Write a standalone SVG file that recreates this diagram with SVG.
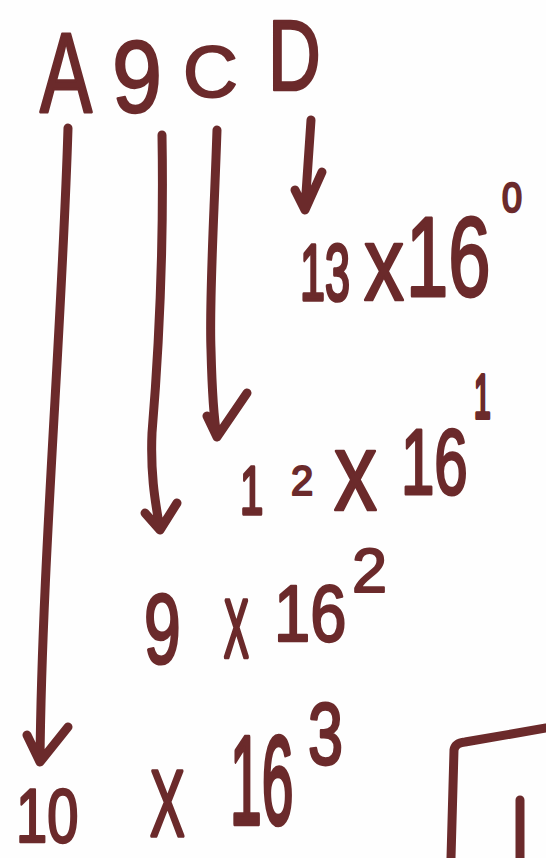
<svg xmlns="http://www.w3.org/2000/svg" width="546" height="858" viewBox="0 0 546 858">
<style>
.t{font-family:"Liberation Sans","DejaVu Sans",sans-serif;fill:#6b2a2b;stroke:#6b2a2b;stroke-width:2;stroke-linejoin:round;}
.ln{fill:none;stroke:#6b2a2b;stroke-width:9;stroke-linecap:round;stroke-linejoin:round;}
</style>
<rect width="546" height="858" fill="#fefefe"/>
<g id="header">
<text class="t" transform="translate(40,112) scale(1,1.46)" font-size="78">A</text>
<text class="t" transform="translate(112,112) scale(1,1.13)" font-size="90">9</text>
<text class="t" transform="translate(183,97) scale(1,0.95)" font-size="76">C</text>
<text class="t" transform="translate(268,90) scale(1,1.36)" font-size="73">D</text>
</g>
<g id="connectors">
<path class="ln" d="M68,128 C62,330 42,560 40,760 M27,735 L40,762 L68,727"/>
<path class="ln" d="M162,135 C164,250 158,360 152,433 C150,480 157,510 160,530 M145,513 L160,530 L177,503"/>
<path class="ln" d="M217,130 C214,220 209,300 211,350 C212,390 214,420 217,437 M207,416 L217,437 L247,393"/>
<path class="ln" d="M311,120 L305,208 M295,190 L305,210 L322,172"/>
</g>
<g id="term0">
<text class="t" transform="translate(300,300) scale(1,1.78)" font-size="45">13</text>
<text class="t" transform="translate(364,300) scale(1,1.33)" font-size="80">x</text>
<text class="t" transform="translate(406,296) scale(1,1.5)" font-size="76">16</text>
<text class="t" transform="translate(502,212) scale(1,1.17)" font-size="36">0</text>
</g>
<g id="term1">
<text class="t" transform="translate(240,514) scale(1,1.64)" font-size="42">1</text>
<text class="t" transform="translate(291,495) scale(1,1.05)" font-size="40">2</text>
<text class="t" transform="translate(334,510) scale(1,1.3)" font-size="86">x</text>
<text class="t" transform="translate(401,494) scale(1,1.56)" font-size="60">16</text>
<text class="t" transform="translate(474,418) scale(1,2.1)" font-size="30">1</text>
</g>
<g id="term2">
<text class="t" transform="translate(144,663) scale(1,1.49)" font-size="66">9</text>
<text class="t" transform="translate(224,657) scale(1,2.2)" font-size="37">X</text>
<text class="t" transform="translate(274,641) scale(1,1.23)" font-size="65">16</text>
<text class="t" transform="translate(352,592)" font-size="63">2</text>
</g>
<g id="term3">
<text class="t" transform="translate(16,842) scale(1,1.37)" font-size="56">10</text>
<text class="t" transform="translate(150,836) scale(1,1.83)" font-size="52">X</text>
<text class="t" transform="translate(230,824) scale(1,2.2)" font-size="57">16</text>
<text class="t" transform="translate(308,764) scale(1,1.38)" font-size="63">3</text>
</g>
<g id="box">
<path class="ln" d="M451,858 L454,750 Q455,743 465,742 L546,728 M520,800 L520,858"/>
</g>
</svg>
